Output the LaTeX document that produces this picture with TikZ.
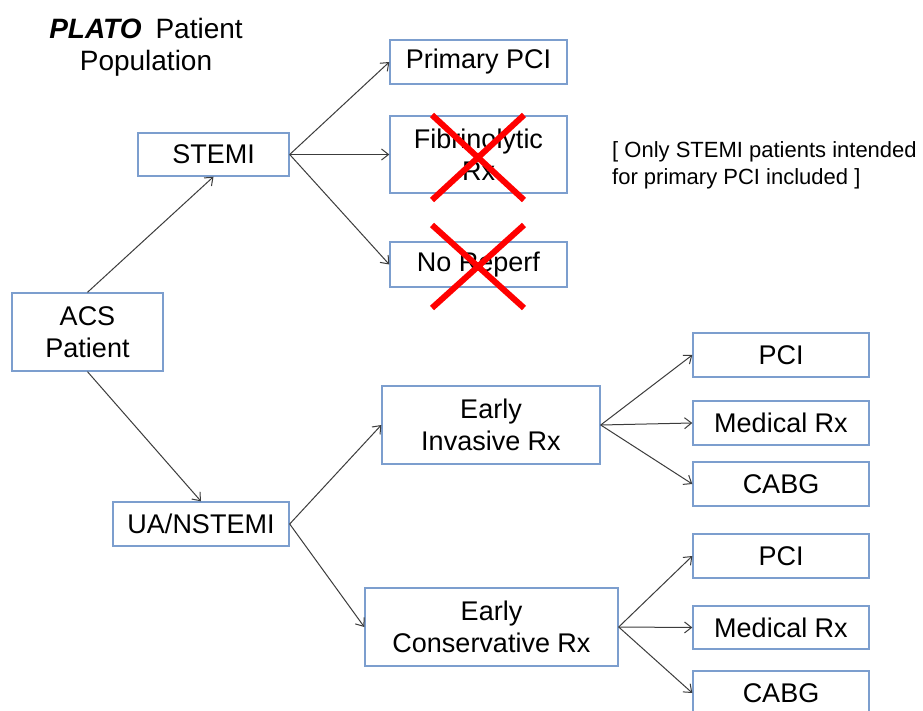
\documentclass[tikz,border=0pt]{standalone}
\usepackage{fontspec}
\setmainfont{Liberation Sans}
\usetikzlibrary{arrows.meta}
\definecolor{boxblue}{RGB}{124,158,206}
\definecolor{linkgray}{RGB}{60,60,60}
\definecolor{crossred}{RGB}{255,0,0}
\tikzset{
  box/.style={draw=boxblue, line width=1.4pt, fill=white, inner sep=0pt,
    align=center, font=\fontsize{27}{32}\selectfont},
  link/.style={draw=linkgray, line width=1pt,
    -{Straight Barb[length=7pt,width=11pt,line width=1pt]}},
  cross/.style={draw=crossred, line width=6pt},
}
\begin{document}
\begin{tikzpicture}[x=1pt,y=-1pt]
  % canvas
  \fill[white] (0,0) rectangle (923,711);
  \useasboundingbox (0,0) rectangle (923,711);
  \clip (0,0) rectangle (923,711);

  % heading
  \node[align=center, inner sep=0pt, font=\fontsize{28}{32}\selectfont]
    (title) at (146,47) {\textbf{\textit{PLATO}}\hspace{0.5em}Patient\\Population};

  % first level
  \node[box, minimum width=151pt, minimum height=78pt] (acs) at (87.5,332) {ACS\\Patient};
  \node[box, minimum width=151pt, minimum height=43pt] (stemi) at (213.5,154.5) {STEMI};
  \node[box, minimum width=176pt, minimum height=44pt] (ua) at (201,524) {UA/NSTEMI};

  % STEMI branches
  \node[box, minimum width=177pt, minimum height=44pt] (ppci) at (478.5,62) {Primary PCI};
  \node[box, minimum width=177pt, minimum height=77pt] (fib) at (478.5,154.5) {Fibrinolytic\\Rx};
  \node[box, minimum width=177pt, minimum height=45pt] (noreperf) at (478.5,264.5) {No Reperf};

  % UA/NSTEMI branches
  \node[box, minimum width=218pt, minimum height=78pt] (inv) at (491,425) {Early\\Invasive Rx};
  \node[box, minimum width=253pt, minimum height=78pt] (cons) at (491.5,627) {Early\\Conservative Rx};

  % treatment outcomes
  \node[box, minimum width=176pt, minimum height=44pt] (pcia) at (781,355) {PCI};
  \node[box, minimum width=176pt, minimum height=44pt] (meda) at (781,423) {Medical Rx};
  \node[box, minimum width=176pt, minimum height=44pt] (cabga) at (781,484) {CABG};
  \node[box, minimum width=176pt, minimum height=44pt] (pcib) at (781,556) {PCI};
  \node[box, minimum width=176pt, minimum height=43pt] (medb) at (781,627.5) {Medical Rx};
  \node[box, minimum width=176pt, minimum height=44pt] (cabgb) at (781,693) {CABG};

  % side note (anchored on the baseline of its last line)
  \node[anchor=base west, align=left, inner sep=0pt,
        font=\fontsize{22}{27}\selectfont] (note) at (612,185)
    {[ Only STEMI patients intended\\for primary PCI included ]};

  % connectors
  \draw[link] (acs.north) -- (stemi.south);
  \draw[link] (acs.south) -- (ua.north);
  \draw[link] (stemi.east) -- (ppci.west);
  \draw[link] (stemi.east) -- (fib.west);
  \draw[link] (stemi.east) -- (noreperf.west);
  \draw[link] (ua.east) -- (inv.west);
  \draw[link] (ua.east) -- (cons.west);
  \draw[link] (inv.east) -- (pcia.west);
  \draw[link] (inv.east) -- (meda.west);
  \draw[link] (inv.east) -- (cabga.west);
  \draw[link] (cons.east) -- (pcib.west);
  \draw[link] (cons.east) -- (medb.west);
  \draw[link] (cons.east) -- (cabgb.west);

  % excluded pathways struck out
  \draw[cross] (432,115) -- (524,200) (432,200) -- (524,115);
  \draw[cross] (432,225) -- (524,308) (432,308) -- (524,225);
\end{tikzpicture}
\end{document}
